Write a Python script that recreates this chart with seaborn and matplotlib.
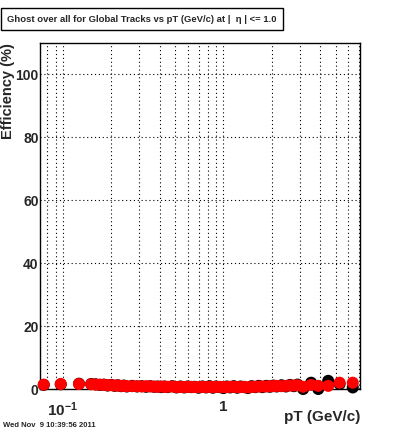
import numpy as np
import pandas as pd
import seaborn as sns
import matplotlib
matplotlib.use("Agg")
import matplotlib.pyplot as plt
from matplotlib.ticker import FixedLocator, NullFormatter, FixedFormatter

# =========================
# DATA
# =========================
pt = [0.076, 0.097, 0.126, 0.150, 0.160, 0.170, 0.180, 0.190, 0.200, 0.210,
      0.220, 0.230, 0.240, 0.250, 0.270, 0.290, 0.310, 0.330, 0.350, 0.370,
      0.390, 0.410, 0.430, 0.450, 0.480, 0.510, 0.540, 0.570, 0.600, 0.630,
      0.660, 0.700, 0.740, 0.780, 0.820, 0.860, 0.900, 0.950, 1.000, 1.050,
      1.100, 1.160, 1.220, 1.280, 1.350, 1.420, 1.500, 1.580, 1.660, 1.750,
      1.850, 1.950, 2.050, 2.150, 2.300, 2.450, 2.600, 2.750, 2.900, 3.140,
      3.520, 3.900, 4.500, 5.300, 6.400]

eff_red = [1.4, 1.6, 1.6, 1.5, 1.4, 1.4, 1.3, 1.2, 1.2, 1.1,
           1.1, 1.0, 1.0, 0.9, 0.9, 0.9, 0.8, 0.9, 0.8, 0.8,
           0.7, 0.8, 0.7, 0.7, 0.8, 0.6, 0.7, 0.6, 0.7, 0.7,
           0.6, 0.6, 0.7, 0.6, 0.7, 0.6, 0.7, 0.7, 0.6, 0.6,
           0.7, 0.7, 0.6, 0.6, 0.7, 0.5, 0.7, 0.7, 0.8, 0.8,
           0.8, 0.9, 0.9, 1.0, 0.9, 1.0, 1.1, 1.1, 1.2, 0.7,
           1.3, 1.0, 1.0, 2.0, 2.0]

eff_black = [1.3, 1.5, 1.7, 1.6, 1.5, 1.3, 1.4, 1.1, 1.3, 1.0,
             1.2, 0.9, 1.1, 0.8, 1.0, 0.8, 0.9, 0.7, 0.9, 0.7,
             0.8, 0.6, 0.8, 0.6, 0.9, 0.5, 0.8, 0.5, 0.8, 0.6,
             0.7, 0.4, 0.8, 0.5, 0.9, 0.4, 0.8, 0.6, 0.3, 0.8,
             0.5, 0.9, 0.4, 0.8, 0.6, 0.3, 0.9, 0.6, 1.0, 0.6,
             1.0, 0.7, 1.1, 0.8, 1.2, 0.8, 1.3, 0.9, 1.4, 0.0,
             2.0, 0.0, 2.6, 1.6, 0.5]

x_major = [0.1, 1]
x_major_labels = [r"$\mathbf{10^{-1}}$", "1"]
x_minor = [0.08, 0.09, 0.2, 0.3, 0.4, 0.5, 0.6, 0.7, 0.8, 0.9,
           2, 3, 4, 5, 6, 7]
y_major = [0, 20, 40, 60, 80, 100]

title = "Ghost over all for Global Tracks vs pT (GeV/c) at |  \u03b7 | <= 1.0"
date_stamp = "Wed Nov  9 10:39:56 2011"

df = pd.DataFrame({"pt": pt, "red": eff_red, "black": eff_black})

# =========================
# STYLE
# =========================
sns.set_style("white")
plt.rcParams["font.family"] = ["Liberation Sans", "DejaVu Sans"]
plt.rcParams["mathtext.fontset"] = "custom"
plt.rcParams["mathtext.rm"] = "Liberation Sans"
plt.rcParams["mathtext.bf"] = "Liberation Sans:bold"

fig = plt.figure(figsize=(4.0, 4.33), dpi=100)
fig.patch.set_facecolor("white")
ax = fig.add_axes([0.1, 0.1016, 0.8, 0.799])

# =========================
# POINTS
# =========================
sns.scatterplot(data=df, x="pt", y="black", color="black", s=75,
                edgecolor="none", ax=ax, clip_on=False, zorder=3)
sns.scatterplot(data=df, x="pt", y="red", color="#ff0000", s=75,
                edgecolor="none", ax=ax, clip_on=False, zorder=4)

# =========================
# AXES
# =========================
ax.set_xscale("log")
ax.set_xlim(0.072, 7.1)
ax.set_ylim(0, 110)

ax.xaxis.set_major_locator(FixedLocator(x_major))
ax.xaxis.set_major_formatter(FixedFormatter(x_major_labels))
ax.xaxis.set_minor_locator(FixedLocator(x_minor))
ax.xaxis.set_minor_formatter(NullFormatter())
ax.yaxis.set_major_locator(FixedLocator(y_major))
ax.yaxis.set_minor_locator(FixedLocator([5, 10, 15, 25, 30, 35, 45, 50, 55,
                                         65, 70, 75, 85, 90, 95, 105]))

ax.grid(which="both", axis="x", color="black", linestyle=(0, (1, 2.5)), linewidth=0.8)
ax.grid(which="major", axis="y", color="black", linestyle=(0, (1, 2.5)), linewidth=0.8)

ax.tick_params(axis="both", which="both", direction="in", top=False, right=False,
               color="black", width=0.8)
ax.tick_params(axis="y", which="major", length=9, labelsize=10, pad=1)
ax.tick_params(axis="y", which="minor", length=5)
ax.tick_params(axis="x", which="major", length=9, labelsize=11, pad=8)
ax.tick_params(axis="x", which="minor", length=5)
for lab in ax.get_yticklabels() + ax.get_xticklabels():
    lab.set_fontweight("bold")

for sp in ax.spines.values():
    sp.set_color("black")
    sp.set_linewidth(1)

ax.set_xlabel("")
ax.set_ylabel("")
fig.text(0.9, 0.038, "pT (GeV/c)", ha="right", va="center",
         fontsize=11, fontweight="bold")
fig.text(0.02, 0.9, "Efficiency (%)", ha="center", va="top", rotation=90,
         fontsize=10.5, fontweight="bold")

# title box
fig.text(0.355, 0.956, title, ha="center", va="center", fontsize=6.8,
         fontweight="bold",
         bbox=dict(boxstyle="square,pad=0.7", facecolor="white",
                   edgecolor="black", linewidth=1))

fig.text(0.008, 0.018, date_stamp, ha="left", va="center", fontsize=5.5,
         fontweight="bold")

fig.savefig("out.png", dpi=100)
plt.close(fig)
